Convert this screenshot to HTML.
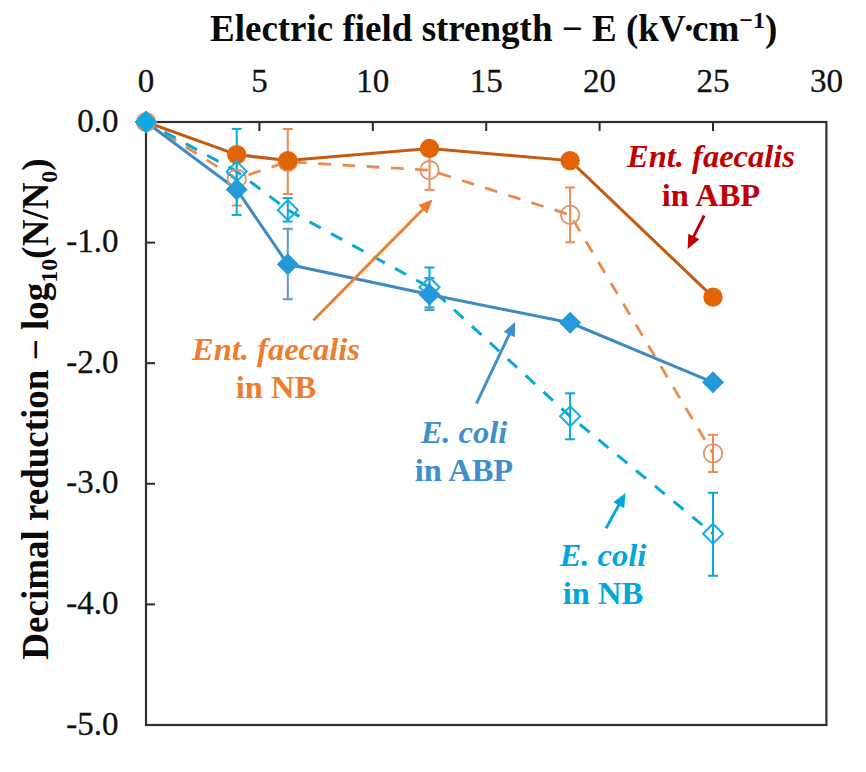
<!DOCTYPE html>
<html><head><meta charset="utf-8"><style>
html,body{margin:0;padding:0;background:#fff;}
svg{display:block;}
text{font-family:"Liberation Serif",serif;}
.tl{font-size:33px;fill:#111;stroke:#111;stroke-width:0.3px;}
.yl{font-size:33px;fill:#111;stroke:#111;stroke-width:0.3px;}
.ti{font-size:37px;font-weight:bold;fill:#0a0a0a;}
.ai{font-size:32.5px;font-weight:bold;font-style:italic;}
.ab{font-size:32.5px;font-weight:bold;}
</style></head><body>
<svg width="866" height="772" viewBox="0 0 866 772">
<rect width="866" height="772" fill="#fff"/>
<rect x="146.0" y="122.0" width="680.4" height="603.0" fill="none" stroke="#303030" stroke-width="2.2"/>
<line x1="259.4" y1="122.0" x2="259.4" y2="131.0" stroke="#2b2b2b" stroke-width="2"/>
<line x1="372.8" y1="122.0" x2="372.8" y2="131.0" stroke="#2b2b2b" stroke-width="2"/>
<line x1="486.2" y1="122.0" x2="486.2" y2="131.0" stroke="#2b2b2b" stroke-width="2"/>
<line x1="599.6" y1="122.0" x2="599.6" y2="131.0" stroke="#2b2b2b" stroke-width="2"/>
<line x1="713.0" y1="122.0" x2="713.0" y2="131.0" stroke="#2b2b2b" stroke-width="2"/>
<line x1="146.0" y1="242.6" x2="155.0" y2="242.6" stroke="#2b2b2b" stroke-width="2"/>
<line x1="146.0" y1="363.2" x2="155.0" y2="363.2" stroke="#2b2b2b" stroke-width="2"/>
<line x1="146.0" y1="483.8" x2="155.0" y2="483.8" stroke="#2b2b2b" stroke-width="2"/>
<line x1="146.0" y1="604.4" x2="155.0" y2="604.4" stroke="#2b2b2b" stroke-width="2"/>
<text x="146.0" y="92" class="tl" text-anchor="middle">0</text>
<text x="259.4" y="92" class="tl" text-anchor="middle">5</text>
<text x="372.8" y="92" class="tl" text-anchor="middle">10</text>
<text x="486.2" y="92" class="tl" text-anchor="middle">15</text>
<text x="599.6" y="92" class="tl" text-anchor="middle">20</text>
<text x="713.0" y="92" class="tl" text-anchor="middle">25</text>
<text x="826.4" y="92" class="tl" text-anchor="middle">30</text>
<text x="118.5" y="131.5" class="yl" text-anchor="end">0.0</text>
<text x="118.5" y="252.1" class="yl" text-anchor="end">-1.0</text>
<text x="118.5" y="372.7" class="yl" text-anchor="end">-2.0</text>
<text x="118.5" y="493.3" class="yl" text-anchor="end">-3.0</text>
<text x="118.5" y="613.9" class="yl" text-anchor="end">-4.0</text>
<text x="118.5" y="734.5" class="yl" text-anchor="end">-5.0</text>
<line x1="146.0" y1="122.0" x2="236.7" y2="178.7" stroke="#EE8A4C" stroke-width="2.8" stroke-dasharray="12.8,11.5" stroke-dashoffset="1.5"/><line x1="236.7" y1="178.7" x2="287.8" y2="161.8" stroke="#EE8A4C" stroke-width="2.8" stroke-dasharray="12.8,11.5" stroke-dashoffset="11.9"/><line x1="287.8" y1="161.8" x2="429.5" y2="170.2" stroke="#EE8A4C" stroke-width="2.8" stroke-dasharray="12.8,11.5" stroke-dashoffset="18.2"/><line x1="429.5" y1="170.2" x2="570.1" y2="214.9" stroke="#EE8A4C" stroke-width="2.8" stroke-dasharray="12.8,11.5" stroke-dashoffset="14.6"/><line x1="570.1" y1="214.9" x2="713.0" y2="453.4" stroke="#EE8A4C" stroke-width="2.8" stroke-dasharray="12.8,11.5" stroke-dashoffset="17.9"/>
<line x1="146.0" y1="122.0" x2="236.7" y2="171.4" stroke="#08A8DA" stroke-width="3" stroke-dasharray="12.8,11.5" stroke-dashoffset="3.3"/><line x1="236.7" y1="171.4" x2="287.8" y2="210.0" stroke="#08A8DA" stroke-width="3" stroke-dasharray="12.8,11.5" stroke-dashoffset="7.5"/><line x1="287.8" y1="210.0" x2="429.5" y2="287.2" stroke="#08A8DA" stroke-width="3" stroke-dasharray="12.8,11.5" stroke-dashoffset="23.8"/><line x1="429.5" y1="287.2" x2="570.1" y2="416.3" stroke="#08A8DA" stroke-width="3" stroke-dasharray="12.8,11.5" stroke-dashoffset="15.3"/><line x1="570.1" y1="416.3" x2="713.0" y2="533.7" stroke="#08A8DA" stroke-width="3" stroke-dasharray="12.8,11.5" stroke-dashoffset="11.8"/>
<polyline points="146.0,122.0 236.7,189.5 287.8,264.3 429.5,294.5 570.1,322.8 713.0,382.3" fill="none" stroke="#3E8AC3" stroke-width="3"/>
<polyline points="146.0,122.0 236.7,154.6 287.8,160.6 429.5,148.5 570.1,160.6 713.0,297.1" fill="none" stroke="#C55A11" stroke-width="3"/>
<line x1="236.7" y1="151.9" x2="236.7" y2="205.5" stroke="#EE8A4C" stroke-width="2"/><line x1="231.7" y1="151.9" x2="241.7" y2="151.9" stroke="#EE8A4C" stroke-width="2"/><line x1="231.7" y1="205.5" x2="241.7" y2="205.5" stroke="#EE8A4C" stroke-width="2"/>
<line x1="287.8" y1="129.0" x2="287.8" y2="194.0" stroke="#EE8A4C" stroke-width="2"/><line x1="282.8" y1="129.0" x2="292.8" y2="129.0" stroke="#EE8A4C" stroke-width="2"/><line x1="282.8" y1="194.0" x2="292.8" y2="194.0" stroke="#EE8A4C" stroke-width="2"/>
<line x1="429.5" y1="150.5" x2="429.5" y2="189.9" stroke="#EE8A4C" stroke-width="2"/><line x1="424.5" y1="150.5" x2="434.5" y2="150.5" stroke="#EE8A4C" stroke-width="2"/><line x1="424.5" y1="189.9" x2="434.5" y2="189.9" stroke="#EE8A4C" stroke-width="2"/>
<line x1="570.1" y1="187.5" x2="570.1" y2="242.3" stroke="#EE8A4C" stroke-width="2"/><line x1="565.1" y1="187.5" x2="575.1" y2="187.5" stroke="#EE8A4C" stroke-width="2"/><line x1="565.1" y1="242.3" x2="575.1" y2="242.3" stroke="#EE8A4C" stroke-width="2"/>
<line x1="713.0" y1="434.8" x2="713.0" y2="472.0" stroke="#EE8A4C" stroke-width="2"/><line x1="708.0" y1="434.8" x2="718.0" y2="434.8" stroke="#EE8A4C" stroke-width="2"/><line x1="708.0" y1="472.0" x2="718.0" y2="472.0" stroke="#EE8A4C" stroke-width="2"/>
<line x1="236.7" y1="128.9" x2="236.7" y2="214.9" stroke="#08A8DA" stroke-width="2"/><line x1="231.7" y1="128.9" x2="241.7" y2="128.9" stroke="#08A8DA" stroke-width="2"/><line x1="231.7" y1="214.9" x2="241.7" y2="214.9" stroke="#08A8DA" stroke-width="2"/>
<line x1="287.8" y1="198.1" x2="287.8" y2="221.5" stroke="#08A8DA" stroke-width="2"/><line x1="282.8" y1="198.1" x2="292.8" y2="198.1" stroke="#08A8DA" stroke-width="2"/><line x1="282.8" y1="221.5" x2="292.8" y2="221.5" stroke="#08A8DA" stroke-width="2"/>
<line x1="429.5" y1="267.5" x2="429.5" y2="307.5" stroke="#08A8DA" stroke-width="2"/><line x1="424.5" y1="267.5" x2="434.5" y2="267.5" stroke="#08A8DA" stroke-width="2"/><line x1="424.5" y1="307.5" x2="434.5" y2="307.5" stroke="#08A8DA" stroke-width="2"/>
<line x1="570.1" y1="393.3" x2="570.1" y2="439.3" stroke="#08A8DA" stroke-width="2"/><line x1="565.1" y1="393.3" x2="575.1" y2="393.3" stroke="#08A8DA" stroke-width="2"/><line x1="565.1" y1="439.3" x2="575.1" y2="439.3" stroke="#08A8DA" stroke-width="2"/>
<line x1="713.0" y1="492.8" x2="713.0" y2="575.8" stroke="#08A8DA" stroke-width="2"/><line x1="708.0" y1="492.8" x2="718.0" y2="492.8" stroke="#08A8DA" stroke-width="2"/><line x1="708.0" y1="575.8" x2="718.0" y2="575.8" stroke="#08A8DA" stroke-width="2"/>
<line x1="287.8" y1="228.8" x2="287.8" y2="299.2" stroke="#5E96C6" stroke-width="2"/><line x1="282.8" y1="228.8" x2="292.8" y2="228.8" stroke="#5E96C6" stroke-width="2"/><line x1="282.8" y1="299.2" x2="292.8" y2="299.2" stroke="#5E96C6" stroke-width="2"/>
<line x1="429.5" y1="278.0" x2="429.5" y2="310.0" stroke="#5E96C6" stroke-width="2"/><line x1="424.5" y1="278.0" x2="434.5" y2="278.0" stroke="#5E96C6" stroke-width="2"/><line x1="424.5" y1="310.0" x2="434.5" y2="310.0" stroke="#5E96C6" stroke-width="2"/>
<circle cx="146.0" cy="122.0" r="9.2" fill="none" stroke="#E0916A" stroke-width="1.8"/>
<circle cx="236.7" cy="178.7" r="9.2" fill="none" stroke="#E0916A" stroke-width="1.8"/>
<circle cx="287.8" cy="161.8" r="9.2" fill="none" stroke="#E0916A" stroke-width="1.8"/>
<circle cx="429.5" cy="170.2" r="9.2" fill="none" stroke="#E0916A" stroke-width="1.8"/>
<circle cx="570.1" cy="214.9" r="9.2" fill="none" stroke="#E0916A" stroke-width="1.8"/>
<circle cx="713.0" cy="453.4" r="9.2" fill="none" stroke="#E0916A" stroke-width="1.8"/>
<circle cx="236.7" cy="154.6" r="9.7" fill="#E26408"/>
<circle cx="287.8" cy="160.6" r="9.7" fill="#E26408"/>
<circle cx="429.5" cy="148.5" r="9.7" fill="#E26408"/>
<circle cx="570.1" cy="160.6" r="9.7" fill="#E26408"/>
<circle cx="713.0" cy="297.1" r="9.7" fill="#E26408"/>
<path d="M146.0,112.0 L156.0,122.0 L146.0,132.0 L136.0,122.0 Z" fill="none" stroke="#12B0E0" stroke-width="2"/>
<path d="M236.7,161.4 L246.7,171.4 L236.7,181.4 L226.7,171.4 Z" fill="none" stroke="#12B0E0" stroke-width="2"/>
<path d="M287.8,200.0 L297.8,210.0 L287.8,220.0 L277.8,210.0 Z" fill="none" stroke="#12B0E0" stroke-width="2"/>
<path d="M429.5,277.2 L439.5,287.2 L429.5,297.2 L419.5,287.2 Z" fill="none" stroke="#12B0E0" stroke-width="2"/>
<path d="M570.1,406.3 L580.1,416.3 L570.1,426.3 L560.1,416.3 Z" fill="none" stroke="#12B0E0" stroke-width="2"/>
<path d="M713.0,523.7 L723.0,533.7 L713.0,543.7 L703.0,533.7 Z" fill="none" stroke="#12B0E0" stroke-width="2"/>
<path d="M146.0,111.0 L157.0,122.0 L146.0,133.0 L135.0,122.0 Z" fill="#2299D8" stroke="none" stroke-width="0"/>
<path d="M236.7,178.5 L247.7,189.5 L236.7,200.5 L225.7,189.5 Z" fill="#2299D8" stroke="none" stroke-width="0"/>
<path d="M287.8,253.3 L298.8,264.3 L287.8,275.3 L276.8,264.3 Z" fill="#2299D8" stroke="none" stroke-width="0"/>
<path d="M429.5,283.5 L440.5,294.5 L429.5,305.5 L418.5,294.5 Z" fill="#2299D8" stroke="none" stroke-width="0"/>
<path d="M570.1,311.8 L581.1,322.8 L570.1,333.8 L559.1,322.8 Z" fill="#2299D8" stroke="none" stroke-width="0"/>
<path d="M713.0,371.3 L724.0,382.3 L713.0,393.3 L702.0,382.3 Z" fill="#2299D8" stroke="none" stroke-width="0"/>
<path d="M146.0,111.0 L157.0,122.0 L146.0,133.0 L135.0,122.0 Z" fill="#12A8E0" stroke="none" stroke-width="0"/>
<line x1="704.2" y1="215.5" x2="692.9" y2="238.2" stroke="#C00000" stroke-width="2.9"/><path d="M687.6,249.0 L688.3,233.7 L699.4,239.2 Z" fill="#C00000"/>
<line x1="313.5" y1="320.3" x2="424.2" y2="207.9" stroke="#ED7D31" stroke-width="2.9"/><path d="M432.6,199.4 L427.2,213.7 L418.4,205.0 Z" fill="#ED7D31"/>
<line x1="476.4" y1="403.6" x2="510.0" y2="332.8" stroke="#3E8FCC" stroke-width="2.9"/><path d="M515.2,322.0 L514.8,337.3 L503.6,332.0 Z" fill="#3E8FCC"/>
<line x1="606.1" y1="528.3" x2="619.7" y2="503.4" stroke="#00A6DC" stroke-width="2.9"/><path d="M625.5,492.9 L624.2,508.2 L613.3,502.2 Z" fill="#00A6DC"/>
<text x="711" y="167" class="ai" fill="#C00000" text-anchor="middle">Ent. faecalis</text><text x="711" y="205.7" class="ab" fill="#C00000" text-anchor="middle">in ABP</text>
<text x="276" y="360" class="ai" fill="#ED7D31" text-anchor="middle">Ent. faecalis</text><text x="276" y="398.3" class="ab" fill="#ED7D31" text-anchor="middle">in NB</text>
<text x="464" y="442.5" class="ai" fill="#3E8FCC" text-anchor="middle">E. coli</text><text x="464" y="481" class="ab" fill="#3E8FCC" text-anchor="middle">in ABP</text>
<text x="603" y="565.6" class="ai" fill="#00A6DC" text-anchor="middle">E. coli</text><text x="603" y="604.1" class="ab" fill="#00A6DC" text-anchor="middle">in NB</text>
<text x="210" y="40.5" class="ti">Electric field strength − E (kV<tspan dx="-3">·</tspan><tspan dx="-3">cm</tspan><tspan dy="-13" font-size="24">−1</tspan><tspan dy="13">)</tspan></text>
<text transform="translate(48,409) rotate(-90)" class="ti" text-anchor="middle">Decimal reduction − log<tspan dy="9" font-size="24">10</tspan><tspan dy="-9">(N/N</tspan><tspan dy="9" font-size="24">0</tspan><tspan dy="-9">)</tspan></text>
</svg>
</body></html>
